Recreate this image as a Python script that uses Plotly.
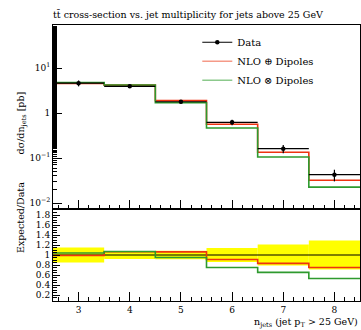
import plotly.graph_objects as go

# ---- data ----
n_jets = [3, 4, 5, 6, 7, 8]
bin_edges = [2.5, 3.5, 4.5, 5.5, 6.5, 7.5, 8.5]
data_xsec = [4.6, 3.92, 1.78, 0.62, 0.161, 0.0426]
data_relerr = [0.15, 0.08, 0.085, 0.14, 0.21, 0.29]
nlo_plus = [4.55, 4.17, 1.89, 0.565, 0.134, 0.032]
nlo_times = [4.78, 4.19, 1.69, 0.465, 0.105, 0.0226]

title_text = "t\u0074\u0304 cross-section vs. jet multiplicity for jets above 25 GeV"
red = "#ee3311"
green = "#2e9a2e"
FONT = "DejaVu Serif"

def steps(vals):
    return list(vals) + [vals[-1]]

fig = go.Figure()

# ---------- top panel ----------
fig.add_trace(go.Scatter(x=bin_edges, y=steps(nlo_plus), mode="lines", line_shape="hv",
                         line=dict(color=red, width=1.6), name="NLO \u2295 Dipoles",
                         xaxis="x", yaxis="y", showlegend=False))
fig.add_trace(go.Scatter(x=bin_edges, y=steps(nlo_times), mode="lines", line_shape="hv",
                         line=dict(color=green, width=1.6), name="NLO \u2297 Dipoles",
                         xaxis="x", yaxis="y", showlegend=False))
fig.add_trace(go.Scatter(x=n_jets, y=data_xsec, mode="markers",
                         marker=dict(color="black", size=4.5),
                         error_x=dict(type="constant", value=0.5, width=0, color="black", thickness=1.2),
                         error_y=dict(type="data", array=[v * e for v, e in zip(data_xsec, data_relerr)],
                                      width=0, color="black", thickness=1.2),
                         xaxis="x", yaxis="y", showlegend=False, name="Data"))

# legend entries
fig.add_trace(go.Scatter(x=[None], y=[None], mode="lines+markers", name="Data",
                         line=dict(color="black", width=1.2), marker=dict(color="black", size=4.5),
                         xaxis="x", yaxis="y"))
fig.add_trace(go.Scatter(x=[None], y=[None], mode="lines", name="NLO \u2295 Dipoles",
                         line=dict(color="#f59a88", width=1.6), xaxis="x", yaxis="y"))
fig.add_trace(go.Scatter(x=[None], y=[None], mode="lines", name="NLO \u2297 Dipoles",
                         line=dict(color="#8cc98c", width=1.6), xaxis="x", yaxis="y"))

# ---------- ratio panel ----------
fig.add_trace(go.Bar(x=n_jets, y=[2 * e for e in data_relerr], base=[1 - e for e in data_relerr],
                     width=1.0, marker=dict(color="#ffff00", line=dict(width=0)),
                     xaxis="x2", yaxis="y2", showlegend=False, hoverinfo="skip"))
fig.add_trace(go.Scatter(x=bin_edges, y=steps([1.0] * len(n_jets)), mode="lines", line_shape="hv",
                         line=dict(color="black", width=1.2), xaxis="x2", yaxis="y2", showlegend=False))
fig.add_trace(go.Scatter(x=bin_edges, y=steps([m / d for m, d in zip(nlo_plus, data_xsec)]),
                         mode="lines", line_shape="hv", line=dict(color=red, width=1.6),
                         xaxis="x2", yaxis="y2", showlegend=False))
fig.add_trace(go.Scatter(x=bin_edges, y=steps([m / d for m, d in zip(nlo_times, data_xsec)]),
                         mode="lines", line_shape="hv", line=dict(color=green, width=1.6),
                         xaxis="x2", yaxis="y2", showlegend=False))

axis_common = dict(showline=True, linecolor="black", linewidth=1, mirror=True,
                   showgrid=False, zeroline=False, ticks="inside", tickcolor="black",
                   tickfont=dict(family=FONT, size=9, color="black"))

fig.update_layout(
    width=361, height=330,
    margin=dict(l=53, r=1, t=25, b=29),
    paper_bgcolor="white", plot_bgcolor="white",
    font=dict(family=FONT, size=9, color="black"),
    barmode="overlay",
    xaxis=dict(domain=[0, 1], range=[2.5, 8.5], anchor="y", showticklabels=False,
               tickvals=n_jets, ticklen=9,
               minor=dict(ticks="inside", dtick=0.2, ticklen=4, tickcolor="black", showgrid=False),
               **axis_common),
    yaxis=dict(domain=[1 / 3, 1], type="log", range=[-2.133, 1.956], anchor="x",
               tickvals=[0.01, 0.1, 1, 10],
               ticktext=["10<sup>\u22122</sup>", "10<sup>\u22121</sup>", "1", "10<sup>1</sup>"],
               ticklen=9,
               minor=dict(ticks="inside", ticklen=4, tickcolor="black", showgrid=False),
               **axis_common),
    xaxis2=dict(domain=[0, 1], range=[2.5, 8.5], anchor="y2",
                tickvals=n_jets, ticktext=[str(n) for n in n_jets], ticklen=9,
                minor=dict(ticks="inside", dtick=0.2, ticklen=4, tickcolor="black", showgrid=False),
                **axis_common),
    yaxis2=dict(domain=[0, 1 / 3], range=[0.08, 1.92], anchor="x2",
                tickvals=[0.2, 0.4, 0.6, 0.8, 1.0, 1.2, 1.4, 1.6, 1.8],
                ticktext=["0.2", "0.4", "0.6", "0.8", "1", "1.2", "1.4", "1.6", "1.8"],
                ticklen=7,
                minor=dict(ticks="inside", dtick=0.05, ticklen=4, tickcolor="black", showgrid=False),
                **axis_common),
    legend=dict(x=0.47, y=0.99, xanchor="left", yanchor="top",
                bgcolor="rgba(0,0,0,0)", font=dict(family=FONT, size=10, color="black"),
                itemwidth=30, tracegroupgap=0),
    showlegend=True,
)

fig.add_annotation(text=title_text, xref="paper", yref="paper", x=0, y=1, xshift=-2, yshift=3,
                   xanchor="left", yanchor="bottom", showarrow=False,
                   font=dict(family=FONT, size=9.5, color="black"))
fig.add_annotation(text="d\u03c3/dn<sub>jets</sub> [pb]", xref="paper", yref="paper",
                   x=0, y=(1 + 1 / 3) / 2 + 0.1, xshift=-40, textangle=-90, showarrow=False,
                   font=dict(family=FONT, size=9.5, color="black"))
fig.add_annotation(text="Expected/Data", xref="paper", yref="paper",
                   x=0, y=1 / 6, xshift=-40, textangle=-90, showarrow=False,
                   font=dict(family=FONT, size=9.5, color="black"))
fig.add_annotation(text="n<sub>jets</sub> (jet p<sub>T</sub> > 25 GeV)", xref="paper", yref="paper",
                   x=1, y=0, yshift=-13, xanchor="right", yanchor="top", showarrow=False,
                   font=dict(family=FONT, size=9.5, color="black"))

fig.write_html("out.html")
